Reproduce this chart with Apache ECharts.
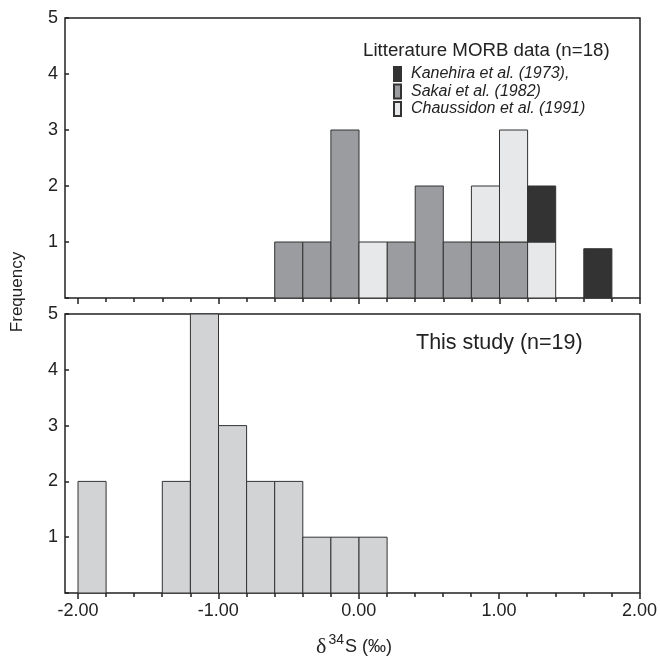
<!DOCTYPE html>
<html>
<head>
<meta charset="utf-8">
<script src="https://cdn.jsdelivr.net/npm/echarts@6/dist/echarts.min.js"></script>
<style>
html, body { margin: 0; background: #fff; }
#main { width: 660px; height: 662px; }
</style>
</head>
<body>
<div id="main"></div>
<script>
// bin starts (‰), width 0.2
var binStarts = [-2.0, -1.8, -1.6, -1.4, -1.2, -1.0, -0.8, -0.6, -0.4, -0.2,
                 0.0, 0.2, 0.4, 0.6, 0.8, 1.0, 1.2, 1.4, 1.6, 1.8];
var binWidth = 0.2;

// top panel: litterature MORB data, stacked Sakai / Chaussidon / Kanehira
var sakai      = [0, 0, 0, 0, 0, 0, 0, 1, 1, 3, 0, 1, 2, 1, 1, 1, 0, 0, 0, 0];
var chaussidon = [0, 0, 0, 0, 0, 0, 0, 0, 0, 0, 1, 0, 0, 0, 1, 2, 1, 0, 0, 0];
var kanehira   = [0, 0, 0, 0, 0, 0, 0, 0, 0, 0, 0, 0, 0, 0, 0, 0, 1, 0, 0.88, 0];

// bottom panel: this study
var thisStudy  = [2, 0, 0, 2, 5, 3, 2, 2, 1, 1, 1, 0, 0, 0, 0, 0, 0, 0, 0, 0];

var xTickValues = [-2, -1, 0, 1, 2];
var yTickValues = [1, 2, 3, 4, 5];

var seriesNames = ['Kanehira et al. (1973),', 'Sakai et al. (1982)', 'Chaussidon et al. (1991)'];

var FONT = 'Liberation Sans, Arial, sans-serif';
var INK = '#222';

var chart = echarts.init(document.getElementById('main'));

// build [x0, x1, y0, y1] rows, stacked on a running base
function histRows(counts, base) {
    var rows = [];
    for (var i = 0; i < binStarts.length; i++) {
        var b = base ? base[i] : 0;
        if (counts[i] > 0) {
            rows.push([binStarts[i], binStarts[i] + binWidth, b, b + counts[i]]);
        }
        if (base) base[i] = b + counts[i];
    }
    return rows;
}
var stackBase = binStarts.map(function () { return 0; });
var sakaiRows = histRows(sakai, stackBase);
var chaussRows = histRows(chaussidon, stackBase);
var kanehiraRows = histRows(kanehira, stackBase);
var studyRows = histRows(thisStudy, null);

function renderBar(params, api) {
    var p0 = api.coord([api.value(0), api.value(3)]);
    var p1 = api.coord([api.value(1), api.value(2)]);
    var st = api.style();
    return {
        type: 'rect',
        shape: { x: p0[0], y: p0[1], width: p1[0] - p0[0], height: p1[1] - p0[1] },
        style: { fill: st.fill, stroke: '#333', lineWidth: 1 }
    };
}

function barSeries(name, rows, axisIdx, color) {
    return {
        name: name,
        type: 'custom',
        xAxisIndex: axisIdx,
        yAxisIndex: axisIdx,
        renderItem: renderBar,
        itemStyle: { color: color, borderColor: '#333', borderWidth: 1 },
        encode: { x: [0, 1], y: [2, 3] },
        data: rows,
        z: 2
    };
}

// overlay axes that only carry ticks / labels (-2 .. 2 spans 78..640 px)
function tickAxis(gridIdx, showLabels) {
    return {
        type: 'value',
        gridIndex: gridIdx,
        min: -2,
        max: 2,
        interval: 1,
        axisLine: { show: false, onZero: false },
        axisTick: { show: true, length: 6, lineStyle: { color: INK, width: 1.5 } },
        minorTick: { show: true, splitNumber: 5, length: 4, lineStyle: { color: INK, width: 1.5 } },
        splitLine: { show: false },
        axisLabel: {
            show: showLabels,
            margin: 9,
            fontFamily: FONT,
            fontSize: 18,
            color: INK,
            formatter: function (v) { return xTickValues.indexOf(v) >= 0 ? v.toFixed(2) : ''; }
        }
    };
}

function freqAxis(gridIdx) {
    return {
        type: 'value',
        gridIndex: gridIdx,
        position: 'left',
        min: 0,
        max: 5,
        interval: 1,
        axisLine: { show: false, onZero: false },
        axisTick: { show: true, inside: true, length: 4, lineStyle: { color: INK, width: 1.5 } },
        splitLine: { show: false },
        axisLabel: {
            margin: 7,
            fontFamily: FONT,
            fontSize: 18,
            color: INK,
            formatter: function (v) { return yTickValues.indexOf(v) >= 0 ? String(v) : ''; }
        }
    };
}

var xMinMain = -2 - 13 / 140.5;

var option = {
    backgroundColor: '#fff',
    animation: false,
    grid: [
        { left: 65, top: 18, width: 575, height: 280, show: true, borderColor: INK, borderWidth: 1.5, backgroundColor: 'transparent' },
        { left: 65, top: 314, width: 575, height: 279, show: true, borderColor: INK, borderWidth: 1.5, backgroundColor: 'transparent' },
        { left: 78, top: 18, width: 562, height: 280 },
        { left: 78, top: 314, width: 562, height: 279 }
    ],
    xAxis: [
        { type: 'value', gridIndex: 0, min: xMinMain, max: 2, show: false, axisLine: { onZero: false } },
        { type: 'value', gridIndex: 1, min: xMinMain, max: 2, show: false, axisLine: { onZero: false } },
        tickAxis(2, false),
        tickAxis(3, true)
    ],
    yAxis: [
        freqAxis(0),
        freqAxis(1),
        { type: 'value', gridIndex: 2, min: 0, max: 5, show: false },
        { type: 'value', gridIndex: 3, min: 0, max: 5, show: false }
    ],
    legend: {
        data: seriesNames,
        orient: 'vertical',
        left: 393,
        top: 66,
        icon: 'rect',
        itemWidth: 7,
        itemHeight: 14,
        itemGap: 1.5,
        padding: 0,
        selectedMode: false,
        textStyle: { fontFamily: FONT, fontStyle: 'italic', fontSize: 16, color: INK, padding: [0, 0, 0, 5] }
    },
    graphic: [
        {
            type: 'text', left: 363, top: 41,
            style: { text: 'Litterature MORB data (n=18)', font: '18.7px ' + FONT, fill: INK }
        },
        {
            type: 'text', left: 416, top: 332,
            style: { text: 'This study (n=19)', font: '21.5px ' + FONT, fill: INK }
        },
        {
            type: 'text', x: 17, y: 292, rotation: Math.PI / 2,
            style: { text: 'Frequency', font: '17px ' + FONT, fill: INK, align: 'center', verticalAlign: 'middle' }
        },
        {
            type: 'text', x: 354, y: 647,
            style: {
                text: '{d|δ}{s|34}{t|S (‰)}',
                align: 'center',
                verticalAlign: 'middle',
                rich: {
                    d: { fontFamily: 'Liberation Serif, serif', fontSize: 22, fill: INK, padding: [0, 2, 0, 0] },
                    s: { fontFamily: FONT, fontSize: 14, fill: INK, padding: [0, 1, 13, 0] },
                    t: { fontFamily: FONT, fontSize: 18, fill: INK }
                }
            }
        }
    ],
    series: [
        barSeries(seriesNames[1], sakaiRows, 0, '#9b9c9f'),
        barSeries(seriesNames[2], chaussRows, 0, '#e7e8ea'),
        barSeries(seriesNames[0], kanehiraRows, 0, '#333333'),
        barSeries('This study', studyRows, 1, '#d2d3d5')
    ]
};

chart.setOption(option);
</script>
</body>
</html>
